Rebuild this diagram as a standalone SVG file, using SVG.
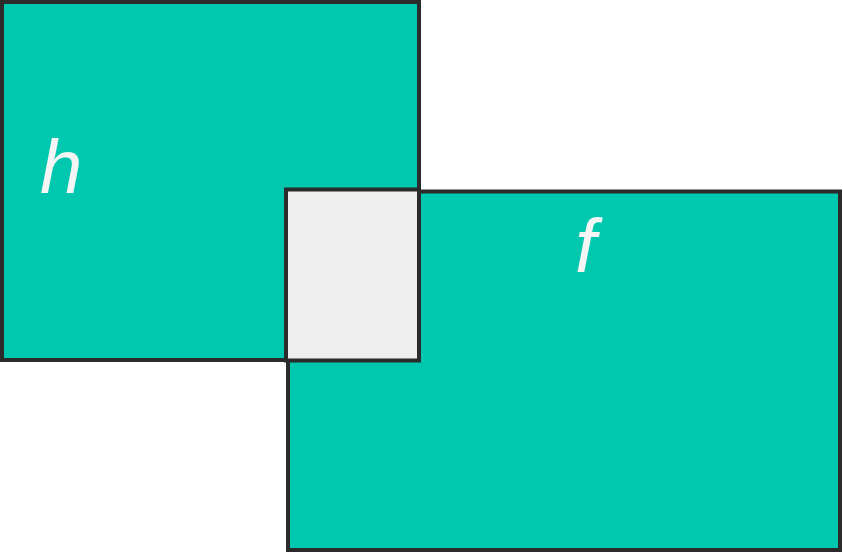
<svg xmlns="http://www.w3.org/2000/svg" width="843" height="553" viewBox="0 0 843 553">
<style>
.box{fill:#00c8ae;stroke:#2b2b2b;stroke-width:4}
.ov{fill:#eeeeee;stroke:#2b2b2b;stroke-width:4}
.lbl{font-family:"Liberation Sans",Arial,sans-serif;font-style:italic;font-size:76px;fill:#f5f5f5}
</style>
<rect width="843" height="553" fill="#ffffff"/>
<g id="h">
<rect class="box" x="2" y="2" width="417" height="358"/>
<text class="lbl" x="40" y="193">h</text>
</g>
<g id="f">
<rect class="box" x="288" y="191.5" width="552" height="358.5"/>
<text class="lbl" x="575" y="272">f</text>
</g>
<g id="overlap">
<rect class="ov" x="286" y="189.5" width="133" height="171"/>
</g>
</svg>
